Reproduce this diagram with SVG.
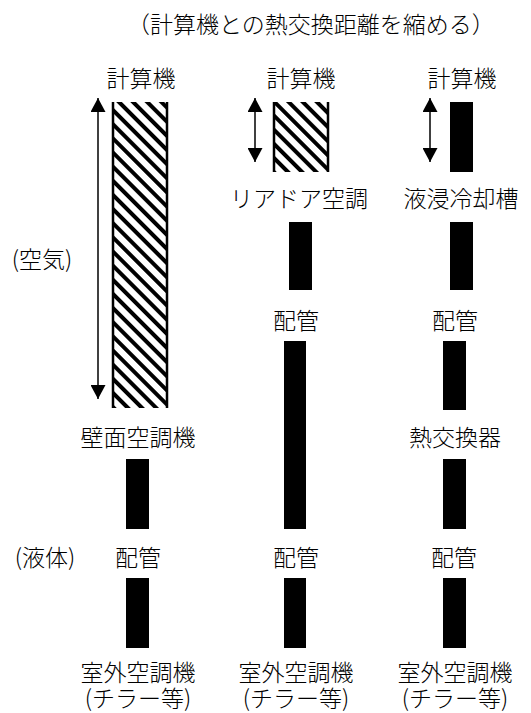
<svg xmlns="http://www.w3.org/2000/svg" width="531" height="713" viewBox="0 0 531 713">
<style>
text{font-family:"Noto Sans CJK JP","Noto Sans CJK SC",sans-serif;font-size:23px;font-weight:300;fill:#000;text-anchor:middle}
.lbl{text-anchor:start}
.bar{fill:#000}
.hatch{fill:url(#hp)}
.edge{stroke:#000;stroke-width:2.5}
.arr{stroke:#000;stroke-width:1.5;fill:none;marker-start:url(#ah);marker-end:url(#ah)}
</style>
<defs>
<pattern id="hp" patternUnits="userSpaceOnUse" width="10" height="10" patternTransform="rotate(-45)">
<rect x="0" y="0" width="10" height="10" fill="#fff"/>
<rect x="0" y="0" width="4" height="10" fill="#000"/>
</pattern>
<marker id="ah" viewBox="0 0 14 15" refX="14" refY="7.5" markerWidth="14" markerHeight="15" markerUnits="userSpaceOnUse" orient="auto-start-reverse">
<path d="M0,0 L14,7.5 L0,15 Z" fill="#000"/>
</marker>
</defs>
<text id="title" class="lbl" x="127" y="33">（計算機との熱交換距離を縮める）</text>
<text id="air" x="42" y="268">(空気)</text>
<text id="liquid" x="45" y="566">(液体)</text>

<g id="connectors">
<line class="arr" x1="98" y1="98" x2="98" y2="399"/>
<line class="arr" x1="255" y1="98" x2="255" y2="162"/>
<line class="arr" x1="430" y1="98" x2="430" y2="162"/>
</g>

<g id="col1">
<g id="c1-computer"><text x="141" y="87">計算機</text></g>
<g id="c1-air"><rect class="hatch" x="112" y="102" width="56" height="306"/><line class="edge" x1="113" y1="102" x2="113" y2="408"/><line class="edge" x1="167" y1="102" x2="167" y2="408"/></g>
<g id="c1-wall"><text x="138" y="446">壁面空調機</text></g>
<g id="c1-pipe-a"><rect class="bar" x="126" y="459" width="23" height="70"/></g>
<g id="c1-pipe"><text x="138" y="566">配管</text></g>
<g id="c1-pipe-b"><rect class="bar" x="126" y="578" width="23" height="70"/></g>
<g id="c1-chiller"><text><tspan x="138" y="681">室外空調機</tspan><tspan x="138" y="707">(チラー等)</tspan></text></g>
</g>

<g id="col2">
<g id="c2-computer"><text x="301" y="87">計算機</text></g>
<g id="c2-air"><rect class="hatch" x="273" y="102" width="56" height="70"/><line class="edge" x1="274" y1="102" x2="274" y2="172"/><line class="edge" x1="328" y1="102" x2="328" y2="172"/></g>
<g id="c2-reardoor"><text x="299" y="207">リアドア空調</text></g>
<g id="c2-pipe-a"><rect class="bar" x="289" y="222" width="23" height="68"/></g>
<g id="c2-pipe1"><text x="296" y="329">配管</text></g>
<g id="c2-pipe-b"><rect class="bar" x="284" y="341" width="22" height="188"/></g>
<g id="c2-pipe2"><text x="296" y="566">配管</text></g>
<g id="c2-pipe-c"><rect class="bar" x="284" y="578" width="22" height="70"/></g>
<g id="c2-chiller"><text><tspan x="296" y="681">室外空調機</tspan><tspan x="296" y="707">(チラー等)</tspan></text></g>
</g>

<g id="col3">
<g id="c3-computer"><text x="462" y="87">計算機</text></g>
<g id="c3-block"><rect class="bar" x="450" y="102" width="23" height="70"/></g>
<g id="c3-tank"><text x="461" y="207">液浸冷却槽</text></g>
<g id="c3-pipe-a"><rect class="bar" x="450" y="222" width="23" height="68"/></g>
<g id="c3-pipe1"><text x="455" y="329">配管</text></g>
<g id="c3-pipe-b"><rect class="bar" x="443" y="341" width="23" height="69"/></g>
<g id="c3-hx"><text x="455" y="446">熱交換器</text></g>
<g id="c3-pipe-c"><rect class="bar" x="443" y="459" width="23" height="70"/></g>
<g id="c3-pipe2"><text x="454" y="566">配管</text></g>
<g id="c3-pipe-d"><rect class="bar" x="443" y="578" width="23" height="70"/></g>
<g id="c3-chiller"><text><tspan x="455" y="681">室外空調機</tspan><tspan x="455" y="707">(チラー等)</tspan></text></g>
</g>
</svg>
